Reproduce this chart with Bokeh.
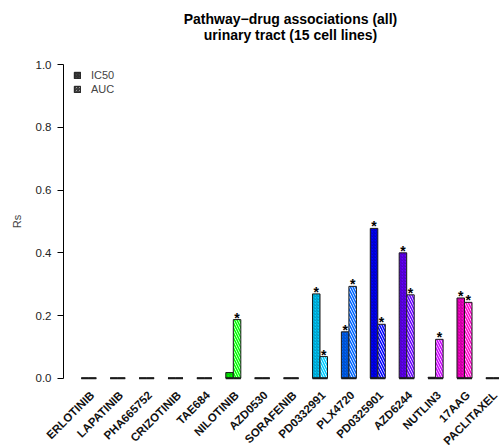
import colorsys
import numpy as np
from bokeh.plotting import figure
from bokeh.models import ColumnDataSource, FixedTicker, Legend, LegendItem, Label
from bokeh.core.properties import value
from bokeh.embed import file_html
from bokeh.resources import INLINE

# ---------------- data ----------------
drugs = ["ERLOTINIB", "LAPATINIB", "PHA665752", "CRIZOTINIB", "TAE684",
         "NILOTINIB", "AZD0530", "SORAFENIB", "PD0332991", "PLX4720",
         "PD0325901", "AZD6244", "NUTLIN3", "17AAG", "PACLITAXEL"]
ic50 = [0, 0, 0, 0, 0, 0.018, 0, 0, 0.269, 0.148, 0.478, 0.400, 0.003, 0.256, 0]
auc = [0, 0, 0, 0, 0, 0.187, 0, 0, 0.069, 0.293, 0.172, 0.266, 0.124, 0.242, 0]
ic50_sig = [False, False, False, False, False, False, False, False,
            True, True, True, True, False, True, False]
auc_sig = [False, False, False, False, False, True, False, False,
           True, True, True, True, True, True, False]
y_ticks = [0.0, 0.2, 0.4, 0.6, 0.8, 1.0]
title_lines = ["Pathway\u2212drug associations (all)", "urinary tract (15 cell lines)"]

n = len(drugs)
colors = []
for i in range(n):
    r, g, b = colorsys.hsv_to_rgb(i / n, 1, 1)
    colors.append("#%02x%02x%02x" % (int(round(r * 255)), int(round(g * 255)), int(round(b * 255))))

# ---------------- layout params (frame = whole canvas) ----------------
W, H = 499, 445
bw = 0.26          # bar width (group spacing = 1)
shift = 0.12       # bars sit left of the label tick
px_per_unit = 28.9
axis_px = 63
first_center_px = 88.3
x_start = -shift - first_center_px / px_per_unit
x_end = x_start + W / px_per_unit
y_axis_x = x_start + axis_px / px_per_unit

zero_px, one_px = 377.7, 64.3
ppy = zero_px - one_px
y_end = zero_px / ppy
y_start = -(H - zero_px) / ppy

FONT = "Liberation Sans"

p = figure(width=W, height=H, output_backend="svg", toolbar_location=None,
           x_range=(x_start, x_end), y_range=(y_start, y_end),
           min_border_left=0, min_border_right=0,
           min_border_top=0, min_border_bottom=0)
p.outline_line_color = None
p.grid.visible = False
p.background_fill_color = "white"

centers = np.arange(n) - shift
src_ic = ColumnDataSource(dict(left=centers - bw, right=centers, top=ic50,
                               bottom=[0] * n, color=colors))
src_auc = ColumnDataSource(dict(left=centers, right=centers + bw, top=auc,
                                bottom=[0] * n, color=colors))

p.quad(left="left", right="right", top="top", bottom="bottom", source=src_ic,
       fill_color="color", line_color="#1a1a1a", line_width=1,
       hatch_pattern="right_diagonal_line", hatch_color="#000000",
       hatch_alpha=0.35, hatch_scale=3, hatch_weight=0.8)
p.quad(left="left", right="right", top="top", bottom="bottom", source=src_auc,
       fill_color="white", line_color="#1a1a1a", line_width=1,
       hatch_pattern="left_diagonal_line", hatch_color="color",
       hatch_scale=5, hatch_weight=1.6)

# base lines (visible as the dark dash for zero-valued bars)
p.segment(x0="left", x1="right", y0="bottom", y1="bottom", source=src_ic,
          line_color="#1a1a1a", line_width=2)
p.segment(x0="left", x1="right", y0="bottom", y1="bottom", source=src_auc,
          line_color="#1a1a1a", line_width=2)

# significance stars
sx, sy = [], []
for i in range(n):
    if ic50_sig[i]:
        sx.append(centers[i] - bw / 2); sy.append(ic50[i])
    if auc_sig[i]:
        sx.append(centers[i] + bw / 2); sy.append(auc[i])
p.text(x=sx, y=sy, text=["*"] * len(sx), text_align="center",
       text_baseline="alphabetic", y_offset=-2, text_font_size="14px",
       text_font_style="bold", text_color="black", text_font=value(FONT))

# legend (swatch renderers kept outside the visible range)
off = x_start - 5
r_ic = p.quad(left=[off], right=[off + 0.1], top=[0.1], bottom=[0], fill_color="#444444",
              line_color="#1a1a1a", hatch_pattern="right_diagonal_line",
              hatch_color="#000000", hatch_alpha=0.5, hatch_scale=3, hatch_weight=0.8)
r_auc = p.quad(left=[off], right=[off + 0.1], top=[0.1], bottom=[0], fill_color="white",
               line_color="#1a1a1a", hatch_pattern="left_diagonal_line",
               hatch_color="#333333", hatch_scale=3, hatch_weight=1.3)
legend = Legend(items=[LegendItem(label="IC50", renderers=[r_ic]),
                       LegendItem(label="AUC", renderers=[r_auc])],
                location=(73, H - 96), orientation="vertical",
                glyph_width=8, glyph_height=8, label_height=14, spacing=0,
                padding=0, margin=0, label_standoff=10,
                label_text_font=FONT, label_text_font_size="11px",
                border_line_color=None, background_fill_alpha=0)
p.add_layout(legend)

# y axis (fixed inside the full-canvas frame)
ya = p.yaxis[0]
ya.fixed_location = y_axis_x
ya.ticker = FixedTicker(ticks=y_ticks)
ya.bounds = (0, 1)
ya.major_label_overrides = {t: "%.1f" % t for t in y_ticks}
ya.minor_tick_line_color = None
ya.major_tick_in = 0
ya.major_tick_out = 6
ya.major_label_standoff = 6
ya.major_label_text_font = FONT
ya.major_label_text_font_size = "11.5px"
ya.major_label_text_color = "#222222"
ya.axis_label = "Rs"
ya.axis_label_text_font = FONT
ya.axis_label_text_font_size = "11px"
ya.axis_label_text_font_style = "normal"
ya.axis_label_standoff = 10

# x axis: only rotated category labels, fixed at y = 0
xa = p.xaxis[0]
xa.fixed_location = 0
xa.ticker = FixedTicker(ticks=list(range(n)))
xa.major_label_overrides = {i: d for i, d in enumerate(drugs)}
xa.major_label_orientation = np.pi / 4
xa.axis_line_color = None
xa.major_tick_line_color = None
xa.minor_tick_line_color = None
xa.major_tick_out = 0
xa.major_tick_in = 0
xa.major_label_standoff = 15
xa.major_label_text_font = FONT
xa.major_label_text_font_size = "11.5px"
xa.major_label_text_font_style = "bold"
xa.major_label_text_color = "#111111"

# two-line title
for k, line in enumerate(title_lines):
    p.add_layout(Label(x=290, y=H - 18 - 16 * k, x_units="screen", y_units="screen",
                       text=line, text_align="center", text_baseline="middle",
                       text_font=FONT, text_font_size="14px",
                       text_font_style="bold", text_color="black"))

open("out.html", "w").write(file_html(p, INLINE))
